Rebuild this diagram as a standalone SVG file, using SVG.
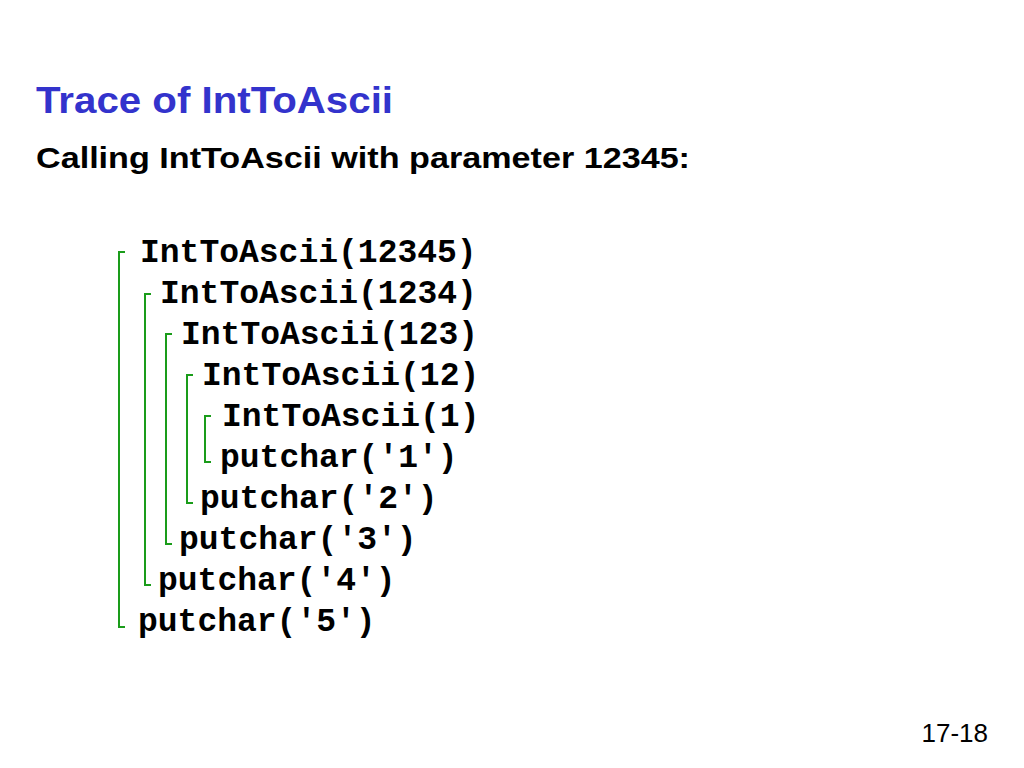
<svg xmlns="http://www.w3.org/2000/svg" width="1024" height="768" viewBox="0 0 1024 768">
<style>
.t{font-family:"Liberation Mono",monospace;font-weight:bold;font-size:33px;fill:#000}
.b{fill:none;stroke:#1a9c1a;stroke-width:2}
</style>
<rect width="1024" height="768" fill="#fff"/>
<text x="36" y="113" font-family="Liberation Sans,Arial,sans-serif" font-weight="bold" font-size="37" textLength="357" lengthAdjust="spacingAndGlyphs" fill="#3333cc">Trace of IntToAscii</text>
<text x="36" y="168" font-family="Liberation Sans,Arial,sans-serif" font-weight="bold" font-size="30" textLength="654" lengthAdjust="spacingAndGlyphs" fill="#000">Calling IntToAscii with parameter 12345:</text>
<g id="connectors">
<path class="b" d="M125 252H119V627H125"/>
<path class="b" d="M151 294H145V585H151"/>
<path class="b" d="M172 334H166V544H172"/>
<path class="b" d="M193 375H187V503H193"/>
<path class="b" d="M211 416H205V462H211"/>
</g>
<g id="n1"><text class="t" x="140" y="262">IntToAscii(12345)</text></g>
<g id="n2"><text class="t" x="160" y="303">IntToAscii(1234)</text></g>
<g id="n3"><text class="t" x="181" y="344">IntToAscii(123)</text></g>
<g id="n4"><text class="t" x="202" y="385">IntToAscii(12)</text></g>
<g id="n5"><text class="t" x="222" y="426">IntToAscii(1)</text></g>
<g id="n6"><text class="t" x="220" y="467">putchar('1')</text></g>
<g id="n7"><text class="t" x="200" y="508">putchar('2')</text></g>
<g id="n8"><text class="t" x="179" y="549">putchar('3')</text></g>
<g id="n9"><text class="t" x="158" y="590">putchar('4')</text></g>
<g id="n10"><text class="t" x="138" y="631">putchar('5')</text></g>
<text x="988" y="742" text-anchor="end" font-family="Liberation Sans,Arial,sans-serif" font-size="26" fill="#000">17-18</text>
</svg>
